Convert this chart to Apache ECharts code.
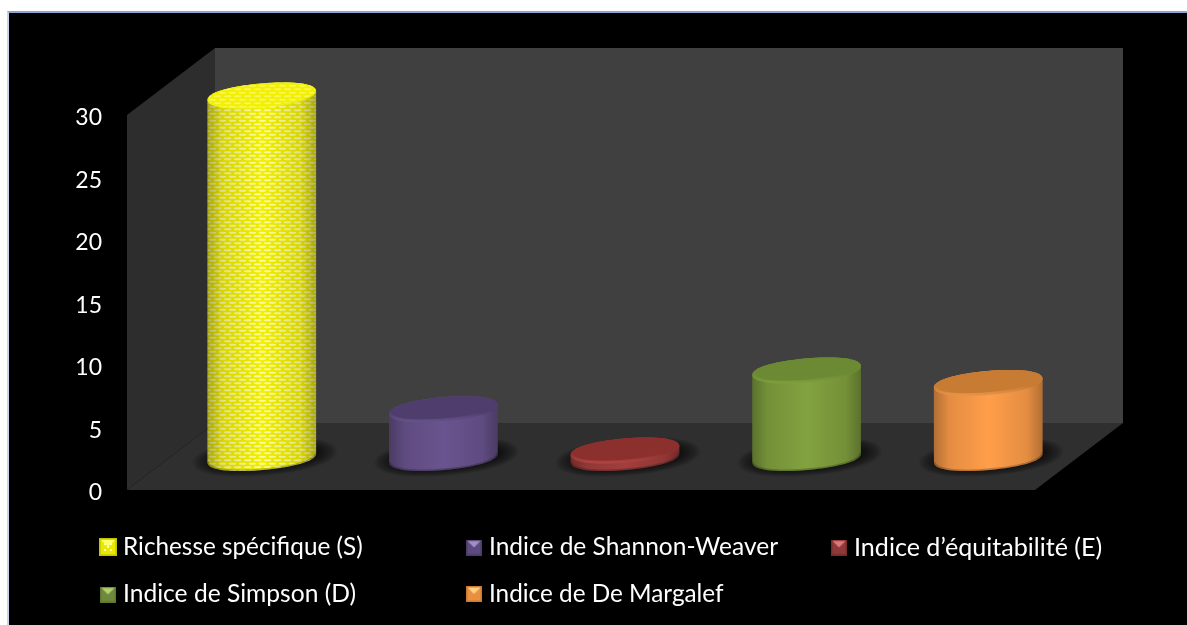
<!DOCTYPE html>
<html lang="fr">
<head>
<meta charset="utf-8">
<title>Indices de diversité</title>
<script src="https://cdn.jsdelivr.net/npm/echarts@6/dist/echarts.min.js"></script>
<style>
  html, body { margin: 0; height: 100%; background: #fff; overflow: hidden; }
  #frame { position: absolute; left: 7px; top: 11px; right: 0; bottom: 0; background: #000;
           border-left: 2px solid #c9d3ea; border-top: 2px solid #8ea4d2; }
  #chart { position: absolute; left: 0; top: 0; width: 1187px; height: 625px; }
</style>
</head>
<body>
<div id="frame"></div>
<div id="chart"></div>
<script>
// Indicator names, values and colours
const indicators = ['Richesse spécifique (S)', 'Indice de Shannon-Weaver', 'Indice d’équitabilité (E)', 'Indice de Simpson (D)', 'Indice de De Margalef'];
const values = [29, 3.9, 0.6, 7, 6];
const yTicks = { min: 0, max: 30, interval: 5 };
const edgeColors = ['#c4c400', '#4c3a68', '#7a2b2a', '#60792b', '#cc7a2e'];
const midColors = ['#ffff00', '#6a548f', '#a23e3c', '#82a23f', '#ff9e4a'];
const topColors = ['#e6e600', '#4f3d6d', '#8c302e', '#6b8a33', '#c87b33'];
const rimColors = ['#f8f820', '#66538b', '#b04643', '#7f9e3d', '#ea9549'];
const iconLight = ['#ffff66', '#a48fc4', '#e07878', '#b4d070', '#ffd080'];
const iconBody = ['#e8e800', '#5a4a80', '#8f3a3a', '#6f8a3c', '#e88f40'];
const legendPlaces = [[99, 535], [466, 535], [831, 535], [100, 582], [466, 582]];
const legendSizes = [24.3, 24.5, 25.1, 24.6, 24.3];

// Fake-depth projection and cylinder proportions, in pixels
const depthX = 88, depthY = -67;
const floorDrop = 1.5;
const radiusX = 54.5, radiusY = 12, tilt = -5 * Math.PI / 180, roundness = 0.92;

// Woven texture used on the first cylinder
function weavePattern(strength) {
  const c = document.createElement('canvas');
  c.width = 10; c.height = 7;
  const g = c.getContext('2d');
  g.fillStyle = '#f2ef00';
  g.fillRect(0, 0, 10, 7);
  g.fillStyle = 'rgba(255,255,195,' + strength + ')';
  [[2.5, 1.75], [7.5, 5.25], [-2.5, 5.25], [12.5, 1.75]].forEach(function (p) {
    g.beginPath();
    g.ellipse(p[0], p[1], 3.8, 1.1, 0, 0, Math.PI * 2);
    g.fill();
  });
  return c;
}
const weaveBody = weavePattern(0.8);
const weaveTop = weavePattern(0.42);

// Bevelled square legend swatch
function bevelIcon(i) {
  const c = document.createElement('canvas');
  const s = 34;
  c.width = s; c.height = s;
  const g = c.getContext('2d');
  g.fillStyle = iconBody[i];
  g.fillRect(0, 0, s, s);
  const m = s / 2;
  g.fillStyle = iconLight[i];
  g.beginPath();
  g.moveTo(2, 2); g.lineTo(s - 2, 2); g.lineTo(m, m);
  g.fill();
  if (i === 0) {
    g.fillStyle = '#ffffc0';
    [[11, 11], [23, 11], [11, 23], [23, 23], [17, 17]].forEach(function (p) { g.fillRect(p[0] - 2, p[1] - 2, 4, 4); });
  }
  g.strokeStyle = edgeColors[i];
  g.lineWidth = 3;
  g.strokeRect(1.5, 1.5, s - 3, s - 3);
  return 'image://' + c.toDataURL();
}

// Point on the tilted, slightly squared ellipse around (cx, cy)
function ellipsePoint(cx, cy, a, b, t) {
  const c = Math.cos(t), s = Math.sin(t);
  const u = a * Math.sign(c) * Math.pow(Math.abs(c), roundness);
  const v = b * Math.sign(s) * Math.pow(Math.abs(s), roundness);
  return [
    cx + u * Math.cos(tilt) - v * Math.sin(tilt),
    cy + u * Math.sin(tilt) + v * Math.cos(tilt)
  ];
}
function ellipseLoop(cx, cy, a, b) {
  const pts = [];
  for (let k = 0; k < 72; k++) pts.push(ellipsePoint(cx, cy, a, b, k / 72 * Math.PI * 2));
  return pts;
}
function lowerArc(cx, cy, a, b) {
  const pts = [];
  for (let k = 0; k <= 36; k++) pts.push(ellipsePoint(cx, cy, a, b, k / 36 * Math.PI));
  return pts;
}
function cylinderOutline(cx, baseY, topY) {
  const pts = lowerArc(cx, baseY, radiusX, radiusY);
  for (let k = 0; k <= 36; k++) pts.push(ellipsePoint(cx, topY, radiusX, radiusY, Math.PI + k / 36 * Math.PI));
  return pts;
}
function vertical(stops) {
  return { type: 'linear', x: 0, y: 0, x2: 0, y2: 1, colorStops: stops };
}
// Darkening towards both sides of a cylinder
const sideShade = {
  type: 'linear', x: 0, y: 0, x2: 1, y2: 0,
  colorStops: [
    { offset: 0, color: 'rgba(0,0,0,0.3)' },
    { offset: 0.14, color: 'rgba(0,0,0,0.11)' },
    { offset: 0.5, color: 'rgba(0,0,0,0)' },
    { offset: 0.86, color: 'rgba(0,0,0,0.11)' },
    { offset: 1, color: 'rgba(0,0,0,0.3)' }
  ]
};

// Walls and floor of the box, derived from the plot rectangle
function renderBox(params) {
  const r = params.coordSys;
  const l = r.x, t = r.y, b = r.y + r.height, rt = r.x + r.width;
  return {
    type: 'group',
    children: [
      { type: 'polygon', shape: { points: [[l + depthX, t + depthY], [rt + depthX, t + depthY], [rt + depthX, b + depthY], [l + depthX, b + depthY]] }, style: { fill: '#404040' } },
      { type: 'polygon', shape: { points: [[l, t], [l + depthX, t + depthY], [l + depthX, b + depthY], [l, b]] }, style: { fill: '#2d2d2d' } },
      { type: 'polygon', shape: { points: [[l, b], [l + depthX, b + depthY], [rt + depthX, b + depthY], [rt, b]] }, style: { fill: '#2f2f2f' } }
    ]
  };
}

// One cylinder standing on the middle of the floor
function renderCylinder(i) {
  return function (params, api) {
    const base = api.coord([api.value(0), 0]);
    const head = api.coord([api.value(0), api.value(1)]);
    const cx = base[0] + depthX / 2;
    const baseY = base[1] + depthY / 2 + floorDrop;
    const topY = head[1] + depthY / 2 + floorDrop;
    const outline = cylinderOutline(cx, baseY, topY);
    const textured = i === 0;
    const children = [];
    // Soft floor shadow built from stacked translucent rings
    for (let ring = 12; ring >= 0; ring--) {
      children.push({
        type: 'polygon',
        shape: { points: ellipseLoop(cx + 3, baseY - 1, radiusX + ring * 1.5, radiusY + ring * 0.55) },
        style: { fill: 'rgba(0,0,0,0.055)' }
      });
    }
    children.push({ type: 'polygon', shape: { points: outline },
      style: { fill: textured ? { image: weaveBody, repeat: 'repeat' } : midColors[i] } });
    children.push({ type: 'polygon', shape: { points: outline }, style: { fill: sideShade } });
    children.push({ type: 'polyline', shape: { points: lowerArc(cx, baseY - 0.8, radiusX - 0.5, radiusY) },
      style: { fill: 'none', stroke: 'rgba(0,0,0,0.22)', lineWidth: 1.6 } });
    children.push({ type: 'polygon', shape: { points: ellipseLoop(cx, topY, radiusX, radiusY) },
      style: { fill: vertical([{ offset: 0, color: topColors[i] }, { offset: 0.6, color: topColors[i] }, { offset: 1, color: rimColors[i] }]) } });
    children.push(textured
      ? { type: 'polygon', shape: { points: ellipseLoop(cx, topY - 0.6, radiusX - 1, radiusY - 0.8) }, style: { fill: { image: weaveTop, repeat: 'repeat' } } }
      : { type: 'polygon', shape: { points: ellipseLoop(cx, topY - 1, radiusX - 3, radiusY - 2) }, style: { fill: topColors[i] } });
    return { type: 'group', children: children };
  };
}

const chart = echarts.init(document.getElementById('chart'), null, { renderer: 'canvas' });

chart.setOption({
  animation: false,
  backgroundColor: 'transparent',
  textStyle: { fontFamily: 'Lato' },
  grid: { left: 127, top: 115, width: 908, height: 375 },
  xAxis: { type: 'category', data: indicators, axisLine: { show: false }, axisTick: { show: false }, axisLabel: { show: false } },
  yAxis: {
    type: 'value', min: yTicks.min, max: yTicks.max, interval: yTicks.interval,
    axisLine: { show: false }, axisTick: { show: false }, splitLine: { show: false },
    axisLabel: { color: '#fff', fontFamily: 'Lato', fontSize: 23, margin: 25, verticalAlign: 'top', lineHeight: 6 }
  },
  legend: indicators.map(function (name, i) {
    const size = i === 0 ? 18 : 16;
    return {
      data: [{ name: name, icon: bevelIcon(i) }],
      left: legendPlaces[i][0], top: legendPlaces[i][1], padding: 0,
      itemWidth: size, itemHeight: size, selectedMode: false,
      textStyle: { color: '#fff', fontFamily: 'Lato', fontSize: legendSizes[i], padding: [0, 0, 0, i === 0 ? 1 : 2] }
    };
  }),
  series: [{
    type: 'custom', name: 'cadre', silent: true, z: 1, coordinateSystem: 'cartesian2d',
    data: [[0, 0]], renderItem: renderBox
  }].concat(indicators.map(function (name, i) {
    return {
      type: 'custom', name: name, z: 2, coordinateSystem: 'cartesian2d',
      itemStyle: { color: midColors[i] },
      encode: { x: 0, y: 1 },
      data: [[i, values[i]]],
      renderItem: renderCylinder(i)
    };
  }))
});
</script>
</body>
</html>
